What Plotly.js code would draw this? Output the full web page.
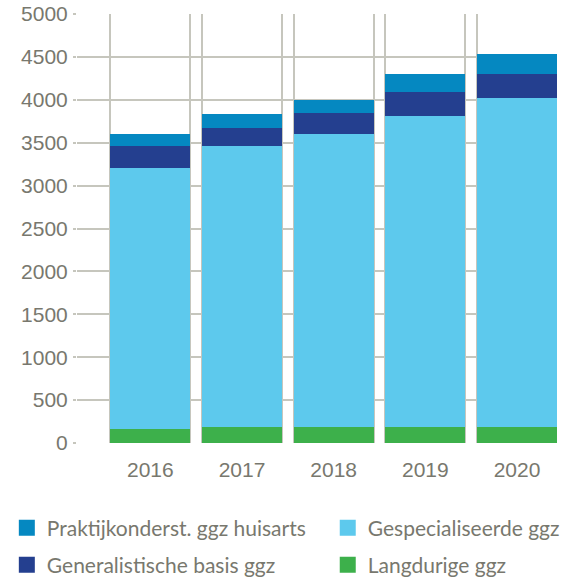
<!DOCTYPE html>
<html>
<head>
<meta charset="utf-8">
<script src="https://cdn.plot.ly/plotly-3.0.1.min.js"></script>
<style>html,body{margin:0;padding:0;background:#fff;}#chart{width:569px;height:580px;}</style>
</head>
<body>
<div id="chart"></div>
<script>
var years = ['2016', '2017', '2018', '2019', '2020'];
var langdurige = [160, 187, 187, 187, 187];
var gespecialiseerde = [3043, 3269, 3409, 3619, 3829];
var generalistische = [253, 210, 256, 280, 283];
var praktijk = [140, 167, 140, 213, 230];
var yTicks = [0, 500, 1000, 1500, 2000, 2500, 3000, 3500, 4000, 4500, 5000];

var barWidth = 0.872;
var half = barWidth / 2;
var edgeVals = [];
years.forEach(function (y, i) { edgeVals.push(i - half, i + half); });

var gridColor = '#c6c6bd';
var textColor = '#78786e';

var series = [
  { name: 'Langdurige ggz', vals: langdurige, color: '#3db04b', legend: 'legend4' },
  { name: 'Gespecialiseerde ggz', vals: gespecialiseerde, color: '#5dc9ed', legend: 'legend2' },
  { name: 'Generalistische basis ggz', vals: generalistische, color: '#243f8f', legend: 'legend3' },
  { name: 'Praktijkonderst. ggz huisarts', vals: praktijk, color: '#0588c1', legend: 'legend' }
];

var data = [
  // empty trace so the overlay axis carrying the vertical grid is drawn
  { type: 'scatter', x: [], y: [], xaxis: 'x2', yaxis: 'y', showlegend: false, hoverinfo: 'skip' }
];
series.forEach(function (s) {
  data.push({
    type: 'bar', name: s.name, x: years, y: s.vals,
    marker: { color: s.color, line: { width: 0 } },
    showlegend: false, hoverinfo: 'y+name'
  });
});
// legend entries (larger square swatches)
series.forEach(function (s) {
  data.push({
    type: 'scatter', mode: 'markers', name: s.name, x: [null], y: [null],
    marker: { symbol: 'square', size: 16, color: s.color },
    legend: s.legend, hoverinfo: 'skip'
  });
});

function legendAt(x, yPx) {
  return {
    orientation: 'h', xref: 'container', yref: 'container',
    x: x, y: 1 - yPx / 580, xanchor: 'left', yanchor: 'middle',
    itemsizing: 'trace',
    font: { family: 'Lato, sans-serif', size: 21, color: textColor },
    bgcolor: 'rgba(0,0,0,0)', borderwidth: 0,
    itemclick: false, itemdoubleclick: false
  };
}

var layout = {
  width: 569, height: 580,
  margin: { l: 77, r: 12, t: 14, b: 137 },
  paper_bgcolor: '#ffffff', plot_bgcolor: '#ffffff',
  barmode: 'stack', bargap: 1 - barWidth,
  xaxis: {
    type: 'category', range: [-0.8, years.length - 1 + half],
    showgrid: false, zeroline: false, showline: false, ticks: '',
    ticklabelstandoff: 12,
    tickfont: { family: 'Liberation Sans, Arial, sans-serif', size: 21, color: textColor },
    fixedrange: true
  },
  xaxis2: {
    overlaying: 'x', anchor: 'y', type: 'linear',
    range: [-0.8, years.length - 1 + half],
    tickmode: 'array', tickvals: edgeVals, showticklabels: false, ticks: '',
    showgrid: true, gridcolor: gridColor, gridwidth: 2,
    zeroline: false, showline: false, fixedrange: true
  },
  yaxis: {
    range: [0, 5000], tickmode: 'array', tickvals: yTicks,
    showgrid: true, gridcolor: gridColor, gridwidth: 2,
    zeroline: false, showline: false,
    ticks: 'outside', ticklen: 3, tickwidth: 2, tickcolor: gridColor,
    ticklabelstandoff: 1,
    tickfont: { family: 'Liberation Sans, Arial, sans-serif', size: 21, color: textColor },
    fixedrange: true
  },
  legend: legendAt(0.012, 528),
  legend2: legendAt(0.576, 528),
  legend3: legendAt(0.012, 565),
  legend4: legendAt(0.576, 565),
  showlegend: true
};

Plotly.newPlot('chart', data, layout, { displayModeBar: false, staticPlot: true });
</script>
</body>
</html>
